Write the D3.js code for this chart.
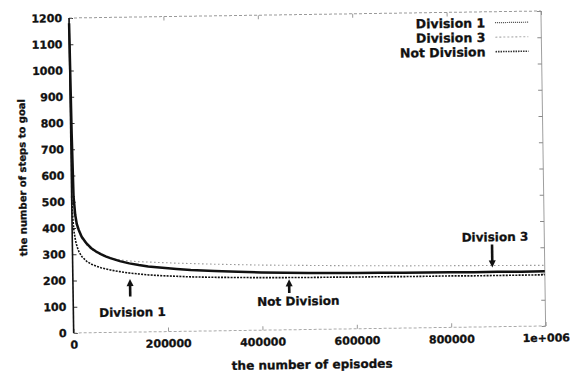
<!DOCTYPE html>
<html>
<head>
<meta charset="utf-8">
<script src="https://cdn.jsdelivr.net/npm/d3@7"></script>
<style>
  html, body { margin: 0; padding: 0; background: #fff; }
  svg { display: block; }
  text { font-family: "DejaVu Sans", "Liberation Sans", sans-serif; font-weight: bold; fill: #111;
         stroke: #111; stroke-width: 0.3px; }
</style>
</head>
<body>
<svg id="chart" width="579" height="376"></svg>
<script>
// Episodes at which the average steps-to-goal was sampled
const episodes = [0, 2000, 4000, 7000, 10000, 14000, 20000, 30000, 40000, 50000,
  60000, 70000, 80000, 90000, 100000, 120000, 140000, 160000, 190000, 220000,
  250000, 300000, 350000, 400000, 450000, 500000, 550000, 600000, 650000, 700000,
  750000, 800000, 850000, 900000, 950000, 1000000];

const division1 = [520, 430, 385, 350, 328, 308, 290, 272, 261, 253,
  247, 242, 238, 234, 231, 225, 221, 217, 213, 210,
  207, 204, 202, 200, 199, 198, 198, 197, 197, 196,
  196, 196, 195, 195, 195, 195];

const division3 = [600, 500, 455, 425, 405, 385, 360, 335, 318, 305,
  296, 289, 284, 279, 276, 271, 268, 266, 263, 260,
  258, 254, 251, 248, 246, 244, 242, 240, 239, 237,
  236, 235, 234, 233, 232, 231];

const notDivision = [1180, 760, 520, 450, 415, 392, 366, 340, 322, 309,
  299, 290, 283, 277, 271, 262, 255, 249, 243, 238,
  233, 228, 224, 220, 217, 215, 214, 212, 212, 211,
  210, 210, 209, 209, 208, 208];

const seriesNames = ["Division 1", "Division 3", "Not Division"];
const xTicks = [0, 200000, 400000, 600000, 800000, 1000000];
const xTickLabels = ["0", "200000", "400000", "600000", "800000", "1e+006"];
const yTicks = [0, 100, 200, 300, 400, 500, 600, 700, 800, 900, 1000, 1100, 1200];
const xTitle = "the number of episodes";
const yTitle = "the number of steps to goal";

// Callouts: arrow at an episode, from tail value to tip value, label beyond the tail
const callouts = [
  { label: "Division 1", episode: 121000, tipValue: 202, tailValue: 136, textValue: 76, textShift: 2 },
  { label: "Not Division", episode: 458000, tipValue: 192, tailValue: 140, textValue: 109, textShift: 9 },
  { label: "Division 3", episode: 889000, tipValue: 226, tailValue: 313, textValue: 342, textShift: 3 }
];

const W = 472, H = 315;
const svg = d3.select("#chart");
const g = svg.append("g").attr("transform", "translate(69,18) rotate(-0.85)");

const x = d3.scaleLinear().domain([0, 1000000]).range([0, W]);
const y = d3.scaleLinear().domain([0, 1200]).range([H, 0]);

// Axes with inward ticks
const axLeft = g.append("g").call(d3.axisLeft(y).tickValues(yTicks)
  .tickSizeInner(-4).tickSizeOuter(0).tickPadding(7).tickFormat(d3.format("d")));
const axRight = g.append("g").attr("transform", `translate(${W},0)`)
  .call(d3.axisRight(y).tickValues(yTicks).tickSizeInner(-4).tickSizeOuter(0).tickFormat(""));
const axBottom = g.append("g").attr("transform", `translate(0,${H})`)
  .call(d3.axisBottom(x).tickValues(xTicks).tickSizeInner(-4).tickSizeOuter(0).tickPadding(8)
    .tickFormat((d, i) => xTickLabels[i]));
const axTop = g.append("g")
  .call(d3.axisTop(x).tickValues(xTicks).tickSizeInner(-4).tickSizeOuter(0).tickFormat(""));

[axLeft, axRight, axBottom, axTop].forEach(a => {
  a.select(".domain").remove();
  a.selectAll("text").style("font-size", "11px").attr("fill", "#111");
});
axLeft.selectAll("line").attr("stroke", "#333");
axRight.selectAll("line").attr("stroke", "#888");
axBottom.selectAll("line").attr("stroke", "#999");
axTop.selectAll("line").attr("stroke", "#999");

// Frame
g.append("line").attr("x1", 0).attr("x2", W).attr("y1", 0).attr("y2", 0)
  .attr("stroke", "#999").attr("stroke-dasharray", "3,2");
g.append("line").attr("x1", 0).attr("x2", W).attr("y1", H).attr("y2", H)
  .attr("stroke", "#aaa").attr("stroke-dasharray", "3,2");
g.append("line").attr("x1", W).attr("x2", W).attr("y1", 0).attr("y2", H)
  .attr("stroke", "#888").attr("stroke-width", 0.8);

// Curves
const line = d3.line().x((d, i) => x(episodes[i])).y(d => y(d));
const styles = {
  "Division 1": { stroke: "#111", width: 1.6, dash: "2,1.2" },
  "Division 3": { stroke: "#999", width: 1.1, dash: "1.5,2.5" },
  "Not Division": { stroke: "#111", width: 2.5, dash: null }
};
const data = { "Division 1": division1, "Division 3": division3, "Not Division": notDivision };

["Division 3", "Division 1", "Not Division"].forEach(name => {
  const s = styles[name];
  g.append("path").datum(data[name]).attr("d", line)
    .attr("fill", "none").attr("stroke", s.stroke).attr("stroke-width", s.width)
    .attr("stroke-dasharray", s.dash);
});

// Left border drawn over the curves
g.append("line").attr("x1", 0).attr("x2", 0).attr("y1", 0).attr("y2", H)
  .attr("stroke", "#111").attr("stroke-width", 1.6);

// Legend
const legendStyles = {
  "Division 1": { stroke: "#444", width: 1.2, dash: "1,1" },
  "Division 3": { stroke: "#aaa", width: 1.1, dash: "2,2" },
  "Not Division": { stroke: "#333", width: 1.6, dash: "1.5,1" }
};
seriesNames.forEach((name, i) => {
  const cy = 11 + i * 14.5;
  g.append("text").attr("x", 416).attr("y", cy).attr("dy", "0.36em")
    .attr("text-anchor", "end").style("font-size", "12.5px").text(name);
  const s = legendStyles[name];
  g.append("line").attr("x1", 426).attr("x2", 459).attr("y1", cy).attr("y2", cy)
    .attr("stroke", s.stroke).attr("stroke-width", s.width).attr("stroke-dasharray", s.dash);
});

// Callout arrows and labels
callouts.forEach(c => {
  const ax = x(c.episode);
  const tip = y(c.tipValue), tail = y(c.tailValue);
  const dir = tail > tip ? 1 : -1; // +1: head points up
  g.append("line").attr("x1", ax).attr("x2", ax)
    .attr("y1", tail).attr("y2", tip + dir * 6)
    .attr("stroke", "#111").attr("stroke-width", 2.6);
  g.append("path")
    .attr("d", `M${ax},${tip} L${ax - 3.5},${tip + dir * 7} L${ax + 3.5},${tip + dir * 7} Z`)
    .attr("fill", "#111");
  g.append("text").attr("x", ax + c.textShift)
    .attr("y", y(c.textValue)).attr("dy", "0.36em")
    .attr("text-anchor", "middle").style("font-size", "12px").text(c.label);
});

// Axis titles
g.append("text").attr("x", 238).attr("y", 350).attr("dy", "0.36em")
  .attr("text-anchor", "middle").style("font-size", "12px").text(xTitle);
g.append("text").attr("transform", "translate(-49,159) rotate(-90)")
  .attr("dy", "0.36em").attr("text-anchor", "middle").style("font-size", "10px").text(yTitle);
</script>
</body>
</html>
